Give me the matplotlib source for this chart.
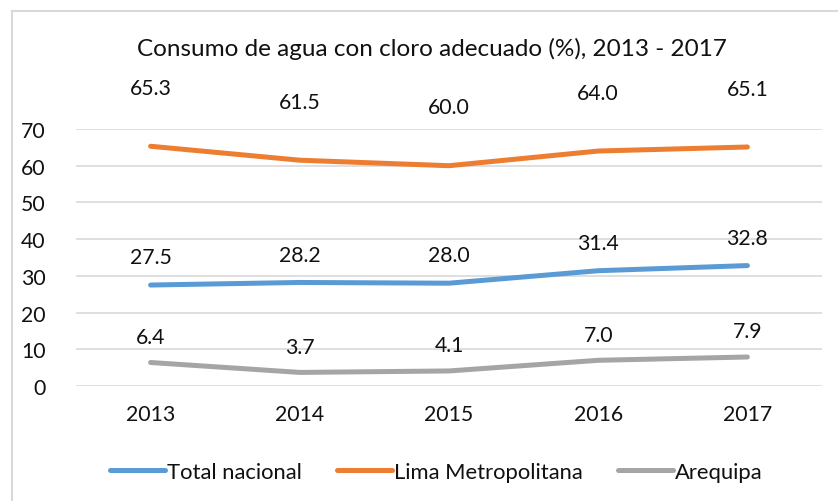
import matplotlib.pyplot as plt
from matplotlib.lines import Line2D

plt.rcParams['font.family'] = ['Lato', 'DejaVu Sans']

years = ["2013", "2014", "2015", "2016", "2017"]
total_nacional = [27.5, 28.2, 28.0, 31.4, 32.8]
lima = [65.3, 61.5, 60.0, 64.0, 65.1]
arequipa = [6.4, 3.7, 4.1, 7.0, 7.9]

series = [
    ("Total nacional", total_nacional, "#5B9BD5", 20),
    ("Lima Metropolitana", lima, "#ED7D31", 42),
    ("Arequipa", arequipa, "#A5A5A5", 18.5),
]

fig = plt.figure(figsize=(8.38, 5.02), dpi=100)
ax = fig.add_axes([76 / 838, 1 - 387 / 502, (822 - 76) / 838, 257 / 502])

x = range(len(years))
for name, vals, color, off in series:
    ax.plot(x, vals, color=color, lw=3.6, solid_capstyle="round",
            solid_joinstyle="round", label=name, zorder=3)
    for xi, v in zip(x, vals):
        ax.annotate(f"{v:.1f}", (xi, v), xytext=(0, off), textcoords="offset points",
                    ha="center", va="center", fontsize=15.3, color="#111111")

ax.set_xlim(-0.5, len(years) - 0.5)
ax.set_ylim(0, 70)
ax.set_yticks(range(0, 71, 10))
ax.set_xticks(list(x))
ax.set_xticklabels(years)
ax.grid(axis="y", color="#D9D9D9", lw=1.2)
ax.set_axisbelow(True)
for s in ax.spines.values():
    s.set_visible(False)
ax.tick_params(length=0, labelsize=15.3, colors="#111111")
ax.tick_params(axis="y", pad=22)
ax.tick_params(axis="x", pad=13)

fig.text(432 / 838, 1 - 49 / 502, "Consumo de agua con cloro adecuado (%), 2013 - 2017",
         ha="center", va="center", fontsize=17.5, color="#111111")

leg = fig.legend(loc="center", bbox_to_anchor=(436 / 838, 1 - 473 / 502), ncol=3,
                 frameon=False, fontsize=15.8, handlelength=2.5, handletextpad=0.1,
                 columnspacing=1.6)
for t in leg.get_texts():
    t.set_color("#111111")

# chart border (only top and left visible in the crop)
fig.add_artist(Line2D([12 / 838, 12 / 838], [0, 1 - 12 / 502], transform=fig.transFigure,
                      color="#D9D9D9", lw=1.5))
fig.add_artist(Line2D([12 / 838, 1], [1 - 12 / 502, 1 - 12 / 502], transform=fig.transFigure,
                      color="#D9D9D9", lw=1.5))

fig.savefig("out.png", dpi=100)
